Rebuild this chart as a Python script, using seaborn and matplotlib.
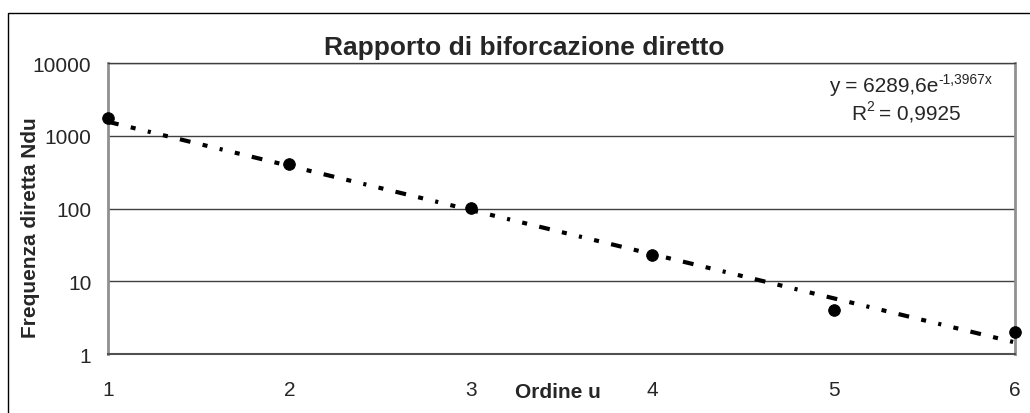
import matplotlib
matplotlib.use("Agg")

import matplotlib.pyplot as plt
import seaborn as sns
import numpy as np
import pandas as pd
from matplotlib.patches import Rectangle

# data
ordine = [1, 2, 3, 4, 5, 6]
frequenza = [1750, 410, 102, 23, 4, 2]

# trendline shown in the chart: y = 6289,6 e^(-1,3967x)
coef_a = 6289.6
coef_b = -1.3967

y_ticks = [1, 10, 100, 1000, 10000]
y_tick_labels = ["1", "10", "100", "1000", "10000"]

sns.set_style("white")
plt.rcParams["font.family"] = ["Liberation Sans", "DejaVu Sans"]

df = pd.DataFrame({"ordine": ordine, "frequenza": frequenza})
x_trend = np.linspace(min(ordine), max(ordine), 200)
trend = pd.DataFrame({"x": x_trend, "y": coef_a * np.exp(coef_b * x_trend)})

fig = plt.figure(figsize=(10.30, 4.14), dpi=100)
ax = fig.add_axes([0.1049, 0.1425, 0.8806, 0.7029])

# outer chart frame
fig.patches.append(Rectangle((8 / 1030, -0.01), 1.0, 1 - 14 / 414 + 0.01,
                             transform=fig.transFigure, fill=False,
                             edgecolor="black", linewidth=1.0))

ax.set_yscale("log")
ax.set_ylim(1, 10000)
ax.set_xlim(1, 6)

for t in y_ticks[1:]:
    ax.axhline(t, color="#404040", linewidth=1.0, zorder=1)

sns.lineplot(data=trend, x="x", y="y", ax=ax, color="black", linewidth=3.0,
             zorder=3)
ax.lines[-1].set_dashes([2.6, 3.0, 1.2, 3.0, 0.75, 3.0, 1.2, 3.0])
ax.lines[-1].set_dash_capstyle("butt")

sns.scatterplot(data=df, x="ordine", y="frequenza", ax=ax, color="black",
                s=70, edgecolor="black", zorder=4, clip_on=False)

ax.set_yticks(y_ticks)
ax.set_yticklabels(y_tick_labels)
ax.minorticks_off()
ax.set_xticks(ordine)
ax.tick_params(axis="both", labelsize=15, length=6, width=1, color="#404040",
               direction="out", pad=6)
ax.tick_params(axis="x", pad=13)

for side in ["left", "right"]:
    ax.spines[side].set_color("#909090")
    ax.spines[side].set_linewidth(2)
ax.spines["top"].set_color("#404040")
ax.spines["top"].set_linewidth(1.0)
ax.spines["bottom"].set_color("#505050")
ax.spines["bottom"].set_linewidth(1.5)

ax.set_xlabel("")
ax.set_ylabel("")
fig.text(31 / 1030, 1 - 228 / 414, "Frequenza diretta Ndu", fontsize=15,
         fontweight="bold", rotation=90, ha="center", va="center")
fig.text(558 / 1030, 1 - 393 / 414, "Ordine u", fontsize=15, fontweight="bold",
         ha="center", va="center")
fig.text(524 / 1030, 1 - 48 / 414, "Rapporto di biforcazione diretto",
         fontsize=19, fontweight="bold", ha="center", va="center")

# trendline equation, superscript as separate smaller text
sup = fig.text(992 / 1030, 1 - 80 / 414, "-1,3967x", fontsize=10,
               ha="right", va="center")
fig.canvas.draw()
sup_w = sup.get_window_extent().width
fig.text(992 / 1030 - sup_w / 1030, 1 - 86 / 414, "y = 6289,6e", fontsize=15,
         ha="right", va="center")

fig.text(870 / 1030, 1 - 107 / 414, "2", fontsize=10, ha="center",
         va="center")
fig.text(866 / 1030, 1 - 114 / 414, "R", fontsize=15, ha="right", va="center")
fig.text(879 / 1030, 1 - 114 / 414, "= 0,9925", fontsize=15, ha="left",
         va="center")

fig.savefig("out.png", dpi=100)
